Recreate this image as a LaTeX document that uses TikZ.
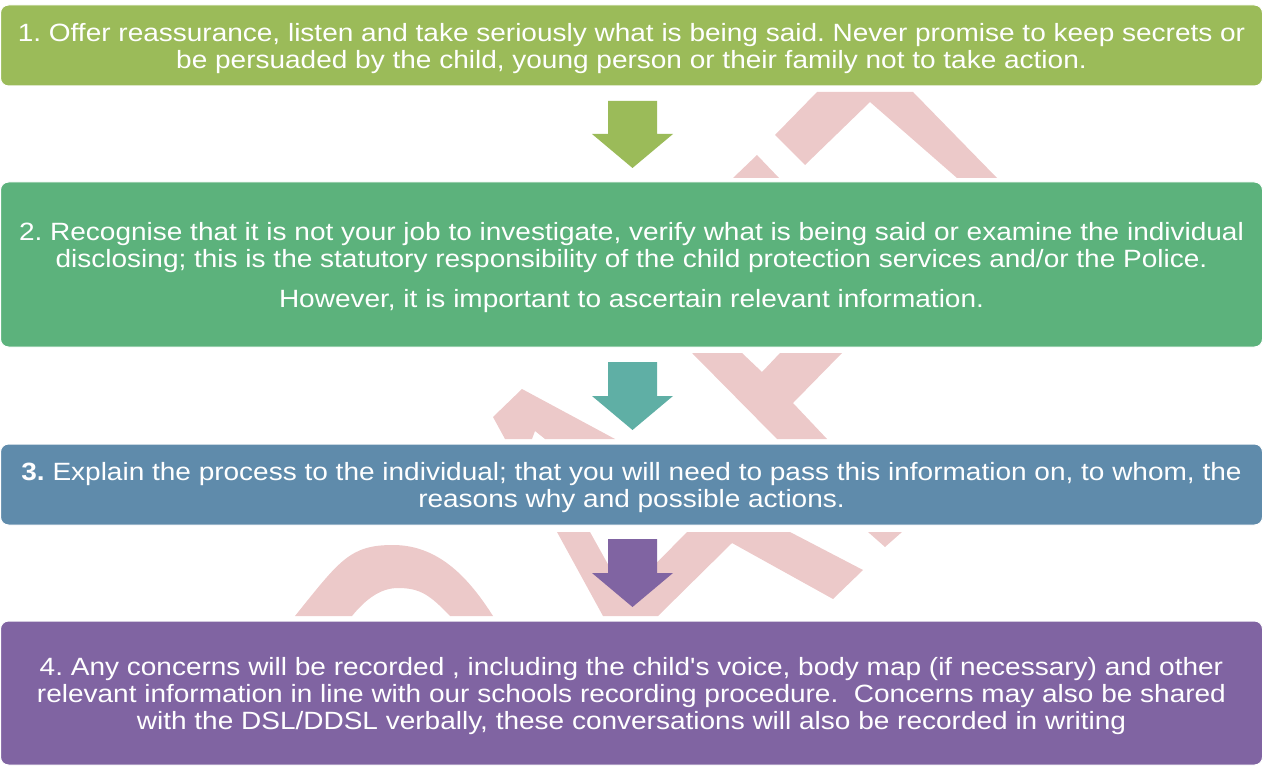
\documentclass[tikz,border=0pt]{standalone}
\usepackage{fontspec}
\setmainfont{Liberation Sans}[FakeStretch=1.12]
\newfontfamily\apfont{Liberation Sans}[FakeStretch=1.12]
\definecolor{boxA}{HTML}{9BBB59}
\definecolor{boxB}{HTML}{5CB27C}
\definecolor{boxC}{HTML}{5F8BAB}
\definecolor{boxD}{HTML}{8064A2}
\definecolor{arrB}{HTML}{5FAFA5}
\definecolor{wm}{HTML}{ECC9C9}
\tikzset{
  stepbox/.style={rectangle, rounded corners=8pt, draw=white, line width=1pt,
    minimum width=1262pt, inner sep=0pt},
  steptext/.style={inner sep=0pt, text=white, align=center,
    font=\fontsize{25}{27}\selectfont\frenchspacing},
  wmark/.style={fill=wm, draw=none},
}
\begin{document}
\begin{tikzpicture}[x=1pt, y=-1pt]
\useasboundingbox (0,0) rectangle (1263,767);
% watermark fragments
\fill[wmark] (817,92) -- (913,92) -- (997,178) -- (957,178) -- (870,102) -- (805,165) -- (775,135) -- cycle;
\fill[wmark] (733,178) -- (757,155) -- (779,178) -- cycle;
\fill[wmark] (493,417) -- (522,389) -- (615,439) -- (545,439) -- (535,431) -- (532,439) -- (505,439) -- cycle;
\fill[wmark] (692,353) -- (742,353) -- (762,372) -- (780,353) -- (842,353) -- (793,403) -- (827,439) -- (777,439) -- cycle;
\fill[wmark] (295,616) .. controls (340,560) and (350,545) .. (393,545) .. controls (440,545) and (470,580) .. (493,616) -- (450,616) .. controls (430,595) and (420,588) .. (398,588) .. controls (380,588) and (365,600) .. (352,616) -- cycle;
\fill[wmark] (557,532) -- (590,532) -- (625,595) -- (687,532) -- (790,532) -- (863,570) -- (833,599) -- (732,543) -- (658,616) -- (603,616) -- cycle;
\fill[wmark] (868,532) -- (902,532) -- (885,547) -- cycle;
% boxes
\node[stepbox, fill=boxA, minimum height=81pt] (s1) at (631.5,45.5) {};
\node[stepbox, fill=boxB, minimum height=165pt] (s2) at (631.5,264.5) {};
\node[stepbox, fill=boxC, minimum height=81pt] (s3) at (631.5,484.5) {};
\node[stepbox, fill=boxD, minimum height=144pt] (s4) at (631.5,693) {};
% texts
\node[steptext] (t1) at ([yshift=-3pt]s1.center)
  {1. Offer reassurance, listen and take seriously what is being said. Never promise to keep secrets or\\
   be persuaded by the child, young person or their family not to take action.};
\node[steptext] (t2) at ([yshift=-3pt]s2.center)
  {2. Recognise that it is not your job to investigate, verify what is being said or examine the individual\\
   disclosing; this is the statutory responsibility of the child protection services and/or the Police.\\[13pt]
   However, it is important to ascertain relevant information.};
\node[steptext] (t3) at ([yshift=-3pt]s3.center)
  {\textbf{3.} Explain the process to the individual; that you will need to pass this information on, to whom, the\\
   reasons why and possible actions.};
\node[steptext] (t4) at ([yshift=-3pt]s4.center)
  {4. Any concerns will be recorded , including the child{\apfont '}s voice, body map (if necessary) and other\\
   relevant information in line with our schools recording procedure.\ \ Concerns may also be shared\\
   with the DSL/DDSL verbally, these conversations will also be recorded in writing};
% block arrows
\fill[boxA] (608,101) -- (657,101) -- (657,134) -- (673,134) -- (632.5,168) -- (592,134) -- (608,134) -- cycle;
\fill[arrB] (608,362) -- (657,362) -- (657,396) -- (673,396) -- (632.5,430) -- (592,396) -- (608,396) -- cycle;
\fill[boxD] (608,539) -- (657,539) -- (657,573) -- (673,573) -- (632.5,607) -- (592,573) -- (608,573) -- cycle;
\end{tikzpicture}
\end{document}
